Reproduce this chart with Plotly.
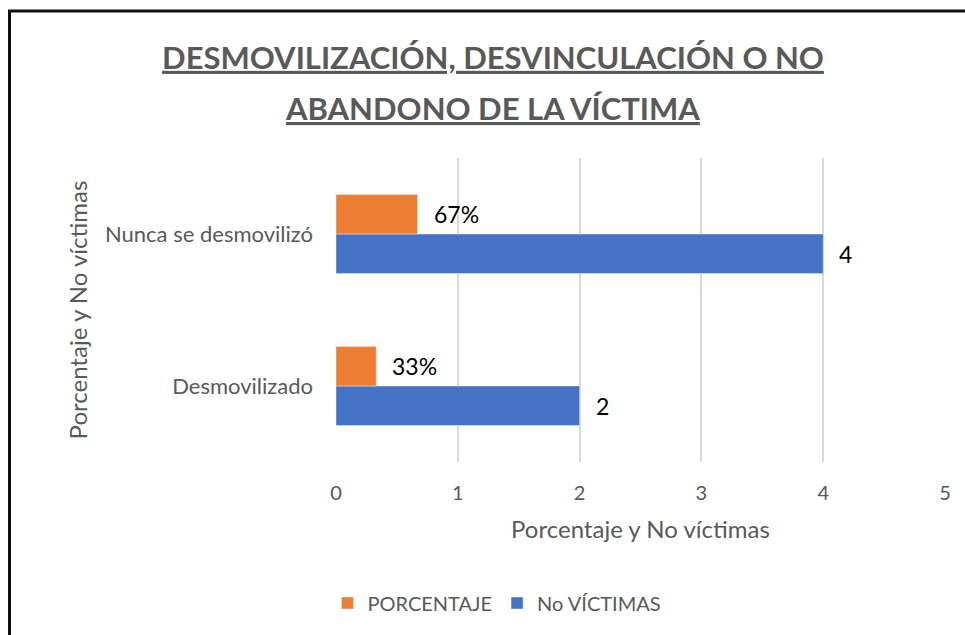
import plotly.graph_objects as go

# Categories (bottom to top on the vertical axis)
categorias = ["Desmovilizado", "Nunca se desmovilizó"]
porcentaje = [0.33, 0.67]
no_victimas = [2, 4]
ticks_x = [0, 1, 2, 3, 4, 5]
titulo = ["DESMOVILIZACIÓN, DESVINCULACIÓN O NO", "ABANDONO DE LA VÍCTIMA"]

NARANJA = "#ED7D31"
AZUL = "#4472C4"
GRIS = "#595959"
FUENTE = "Lato, Open Sans, sans-serif"

W, H = 965, 635
L, R, T, B = 336, 20, 158, 173
plot_w = W - L - R
plot_h = H - T - B

fig = go.Figure()

# Blue first so the orange bar sits on top within each group
fig.add_trace(go.Bar(
    y=categorias, x=no_victimas, orientation="h", name="No VÍCTIMAS",
    marker=dict(color=AZUL), legendrank=2, hoverinfo="x+name",
))
fig.add_trace(go.Bar(
    y=categorias, x=porcentaje, orientation="h", name="PORCENTAJE",
    marker=dict(color=NARANJA), legendrank=1, hoverinfo="x+name",
))

# Value labels to the right of each bar
bar_px = plot_h / len(categorias) * 0.26
etiqueta = dict(family=FUENTE, size=23, color="#000000")
annotations = []
for cat, v in zip(categorias, no_victimas):
    annotations.append(dict(x=v, y=cat, text=str(v), showarrow=False,
                            xanchor="left", xshift=14, yshift=-bar_px / 2,
                            font=etiqueta))
for cat, v in zip(categorias, porcentaje):
    annotations.append(dict(x=v, y=cat, text=f"{round(v * 100)}%", showarrow=False,
                            xanchor="left", xshift=14, yshift=bar_px / 2,
                            font=etiqueta))

# Second line of the heading, set apart a little more than the default line height
fuente_titulo = dict(family=FUENTE, size=31, color=GRIS, weight="bold",
                     lineposition="under")
annotations.append(dict(text=titulo[1], xref="paper", yref="paper",
                        x=(492 - L) / plot_w, y=(H - B - 108) / plot_h,
                        xanchor="center", yanchor="middle", showarrow=False,
                        font=fuente_titulo))

# Frame lines along the top and left edges
px2x = lambda p: (p - L) / plot_w
py2y = lambda p: (H - B - p) / plot_h
shapes = [
    dict(type="line", xref="paper", yref="paper",
         x0=px2x(8), x1=px2x(975), y0=py2y(11), y1=py2y(11),
         line=dict(color="#111111", width=3)),
    dict(type="line", xref="paper", yref="paper",
         x0=px2x(9.5), x1=px2x(9.5), y0=py2y(10), y1=py2y(645),
         line=dict(color="#111111", width=3)),
]

fig.update_layout(
    width=W, height=H,
    margin=dict(l=L, r=R, t=T, b=B),
    paper_bgcolor="white", plot_bgcolor="white",
    barmode="group", bargap=0.48, bargroupgap=0,
    font=dict(family=FUENTE, color=GRIS),
    title=dict(
        text=titulo[0],
        x=493 / W, xanchor="center", xref="container",
        y=1 - 58 / H, yanchor="middle", yref="container",
        font=fuente_titulo,
    ),
    xaxis=dict(
        range=[0, 5], tickvals=ticks_x, showgrid=True, gridcolor="#d9d9d9",
        gridwidth=2, zeroline=False, showline=False, ticks="",
        ticklabelstandoff=17,
        tickfont=dict(family=FUENTE, size=20, color=GRIS),
        title=dict(text="Porcentaje y No víctimas",
                   font=dict(family=FUENTE, size=24, color=GRIS), standoff=18),
    ),
    yaxis=dict(
        categoryorder="array", categoryarray=categorias,
        showgrid=False, zeroline=False, showline=False, ticks="",
        ticklabelstandoff=22,
        tickfont=dict(family=FUENTE, size=22, color=GRIS),
        title=dict(text="Porcentaje y No víctimas",
                   font=dict(family=FUENTE, size=24, color=GRIS), standoff=10),
    ),
    legend=dict(
        orientation="h", xref="container", yref="container",
        x=497 / W, xanchor="center", y=1 - 603 / H, yanchor="middle",
        font=dict(family=FUENTE, size=20, color=GRIS),
        itemclick=False, itemdoubleclick=False,
    ),
    annotations=annotations,
    shapes=shapes,
    showlegend=True,
)

fig.write_html("out.html")
